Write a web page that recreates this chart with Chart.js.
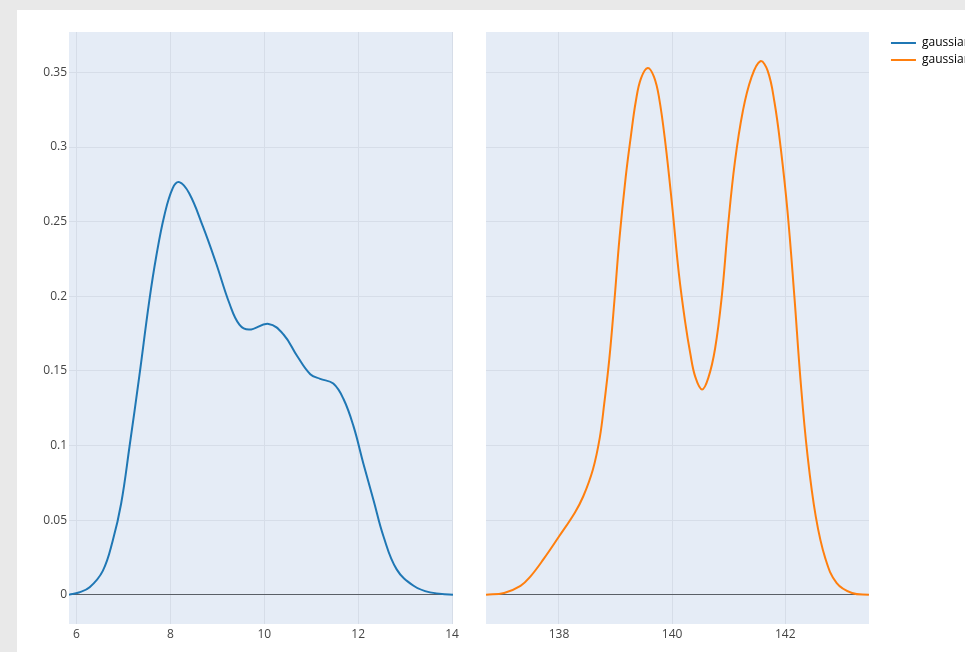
<!DOCTYPE html>
<html>
<head>
<meta charset="utf-8">
<script src="https://cdn.jsdelivr.net/npm/chart.js@4.4.1/dist/chart.umd.min.js"></script>
<style>
  html, body { margin: 0; padding: 0; width: 965px; height: 652px; overflow: hidden; background: #e9e9e9; }
  #paper { position: absolute; left: 17px; top: 10px; width: 1000px; height: 700px; background: #ffffff; }
  .box { position: absolute; }
  #leftBox { left: 29px; top: 32px; width: 436px; height: 620px; }
  #rightBox { left: 486px; top: 32px; height: 620px; }
</style>
</head>
<body>
<div id="paper"></div>
<div class="box" id="leftBox"><canvas id="leftChart"></canvas></div>
<div class="box" id="rightBox"><canvas id="rightChart"></canvas></div>
<script>
// Series names
const seriesNames = ['gaussian', 'gaussian'];

// Density curve, first sample
const blueX = [5.84, 6.05, 6.28, 6.56, 6.77, 6.95, 7.13, 7.34, 7.55, 7.70, 7.87, 8.05, 8.19, 8.40, 8.69, 8.97,
  9.26, 9.47, 9.68, 10.09, 10.41, 10.70, 10.98, 11.19, 11.47, 11.69, 11.90, 12.11, 12.33, 12.54, 12.82,
  13.18, 13.53, 14.02];
const blueY = [0.0, 0.0015, 0.005, 0.016, 0.036, 0.061, 0.0995, 0.147, 0.197, 0.227, 0.254, 0.2725, 0.2765,
  0.269, 0.247, 0.2225, 0.195, 0.181, 0.1777, 0.1815, 0.1744, 0.160, 0.1478, 0.1447, 0.1415, 0.131, 0.113,
  0.088, 0.063, 0.039, 0.017, 0.006, 0.0016, 0.0];

// Density curve, second sample
const orangeX = [136.71, 137.03, 137.32, 137.49, 137.73, 138.00, 138.28, 138.43, 138.60, 138.72, 138.80, 138.89,
  138.98, 139.07, 139.18, 139.27, 139.36, 139.45, 139.57, 139.68, 139.77, 139.88, 140.00, 140.12, 140.23,
  140.32, 140.41, 140.53, 140.64, 140.76, 140.88, 140.99, 141.11, 141.25, 141.40, 141.56, 141.69, 141.81,
  141.92, 142.04, 142.16, 142.27, 142.39, 142.54, 142.71, 142.91, 143.18, 143.48];
const orangeY = [0.0, 0.0012, 0.006, 0.012, 0.024, 0.039, 0.055, 0.066, 0.084, 0.105, 0.128, 0.158,
  0.197, 0.239, 0.280, 0.307, 0.331, 0.346, 0.353, 0.347, 0.333, 0.303, 0.261, 0.215, 0.183,
  0.162, 0.146, 0.1376, 0.1453, 0.165, 0.2006, 0.2476, 0.29, 0.324, 0.3464, 0.3575, 0.351, 0.33,
  0.2994, 0.257, 0.2006, 0.144, 0.0948, 0.0524, 0.0242, 0.0078, 0.0012, 0.0];

// Axis ticks
const yTicks = [0, 0.05, 0.1, 0.15, 0.2, 0.25, 0.3, 0.35];
const yTickLabels = ['0', '0.05', '0.1', '0.15', '0.2', '0.25', '0.3', '0.35'];
const leftXTicks = [6, 8, 10, 12, 14];
const leftXTickLabels = ['6', '8', '10', '12', '14'];
const rightXTicks = [138, 140, 142];
const rightXTickLabels = ['138', '140', '142'];

const colors = ['#1f77b4', '#ff7f0e'];
const FONT_FAMILY = "'Open Sans', verdana, arial, sans-serif";
const tickFont = { family: FONT_FAMILY, size: 12 };
const TEXT = '#444444';
const PLOT_BG = '#e5ecf6';
const GRID = '#d6dde8';
const ZERO = '#5a5f66';
const Y_RANGE = [-0.0196, 0.3771];

const toPoints = (xs, ys) => xs.map((x, i) => ({ x, y: ys[i] }));

function noPad(s) { s.paddingLeft = 0; s.paddingRight = 0; s.paddingTop = 0; s.paddingBottom = 0; }

const plotBackground = {
  id: 'plotBackground',
  beforeDraw(chart) {
    const { ctx, chartArea: a } = chart;
    ctx.save();
    ctx.fillStyle = PLOT_BG;
    ctx.fillRect(a.left, a.top, a.right - a.left, a.bottom - a.top);
    ctx.restore();
  }
};

function xScale(min, max, ticks, labels) {
  return {
    type: 'linear', position: 'bottom', min, max,
    afterBuildTicks: s => { s.ticks = ticks.map(v => ({ value: v })); },
    afterFit: s => { s.height = 28; noPad(s); },
    grid: { color: GRID, lineWidth: 1, drawTicks: false },
    border: { display: false },
    ticks: { padding: 3, color: TEXT, font: tickFont, maxRotation: 0, callback: (v, i) => labels[i] }
  };
}

function yScale(position, showLabels, width) {
  return {
    type: 'linear', position, min: Y_RANGE[0], max: Y_RANGE[1],
    afterBuildTicks: s => { s.ticks = yTicks.map(v => ({ value: v })); },
    afterFit: s => { s.width = width; noPad(s); },
    grid: {
      color: c => (c.tick && c.tick.value === 0 ? ZERO : GRID),
      lineWidth: 1, drawTicks: false
    },
    border: { display: false },
    ticks: { display: showLabels, padding: 2, color: TEXT, font: tickFont, callback: (v, i) => yTickLabels[i] }
  };
}

function lineDataset(label, xs, ys, color) {
  return {
    label, data: toPoints(xs, ys), borderColor: color, backgroundColor: color,
    borderWidth: 2, pointRadius: 0, fill: false, tension: 0.4
  };
}

Chart.defaults.font.family = FONT_FAMILY;
Chart.defaults.color = TEXT;

// Left panel
new Chart(document.getElementById('leftChart'), {
  type: 'line',
  data: { datasets: [lineDataset(seriesNames[0], blueX, blueY, colors[0])] },
  options: {
    responsive: true, maintainAspectRatio: false, animation: false, devicePixelRatio: 1,
    layout: { padding: { left: 0, right: 12, top: 0, bottom: 0 } },
    plugins: { legend: { display: false }, tooltip: { enabled: false } },
    scales: { x: xScale(5.84, 14.02, leftXTicks, leftXTickLabels), y: yScale('left', true, 40) }
  },
  plugins: [plotBackground]
});

// Right panel with the shared legend; its box is sized so the legend begins just right of the plot
const LEG_PAD = 5, LEG_BOX = 25;
const measure = document.createElement('canvas').getContext('2d');
measure.font = '12px ' + FONT_FAMILY;
const textW = Math.max(...seriesNames.map(n => measure.measureText(n).width));
const legendW = LEG_PAD + LEG_BOX + 6 + textW + 10;
document.getElementById('rightBox').style.width = (886 - 486 + legendW) + 'px';

new Chart(document.getElementById('rightChart'), {
  type: 'line',
  data: { datasets: [lineDataset(seriesNames[1], orangeX, orangeY, colors[1])] },
  options: {
    responsive: true, maintainAspectRatio: false, animation: false, devicePixelRatio: 1,
    layout: { padding: 0 },
    plugins: {
      tooltip: { enabled: false },
      legend: {
        position: 'right', align: 'start',
        labels: {
          boxWidth: LEG_BOX, boxHeight: 2, padding: LEG_PAD, color: TEXT,
          font: { family: FONT_FAMILY, size: 12 },
          generateLabels: () => seriesNames.map((n, i) => ({
            text: n, fillStyle: colors[i], strokeStyle: colors[i], lineWidth: 0, hidden: false, datasetIndex: 0
          }))
        }
      }
    },
    scales: { x: xScale(136.71, 143.48, rightXTicks, rightXTickLabels), y: yScale('right', false, 17) }
  },
  plugins: [plotBackground]
});
</script>
</body>
</html>
